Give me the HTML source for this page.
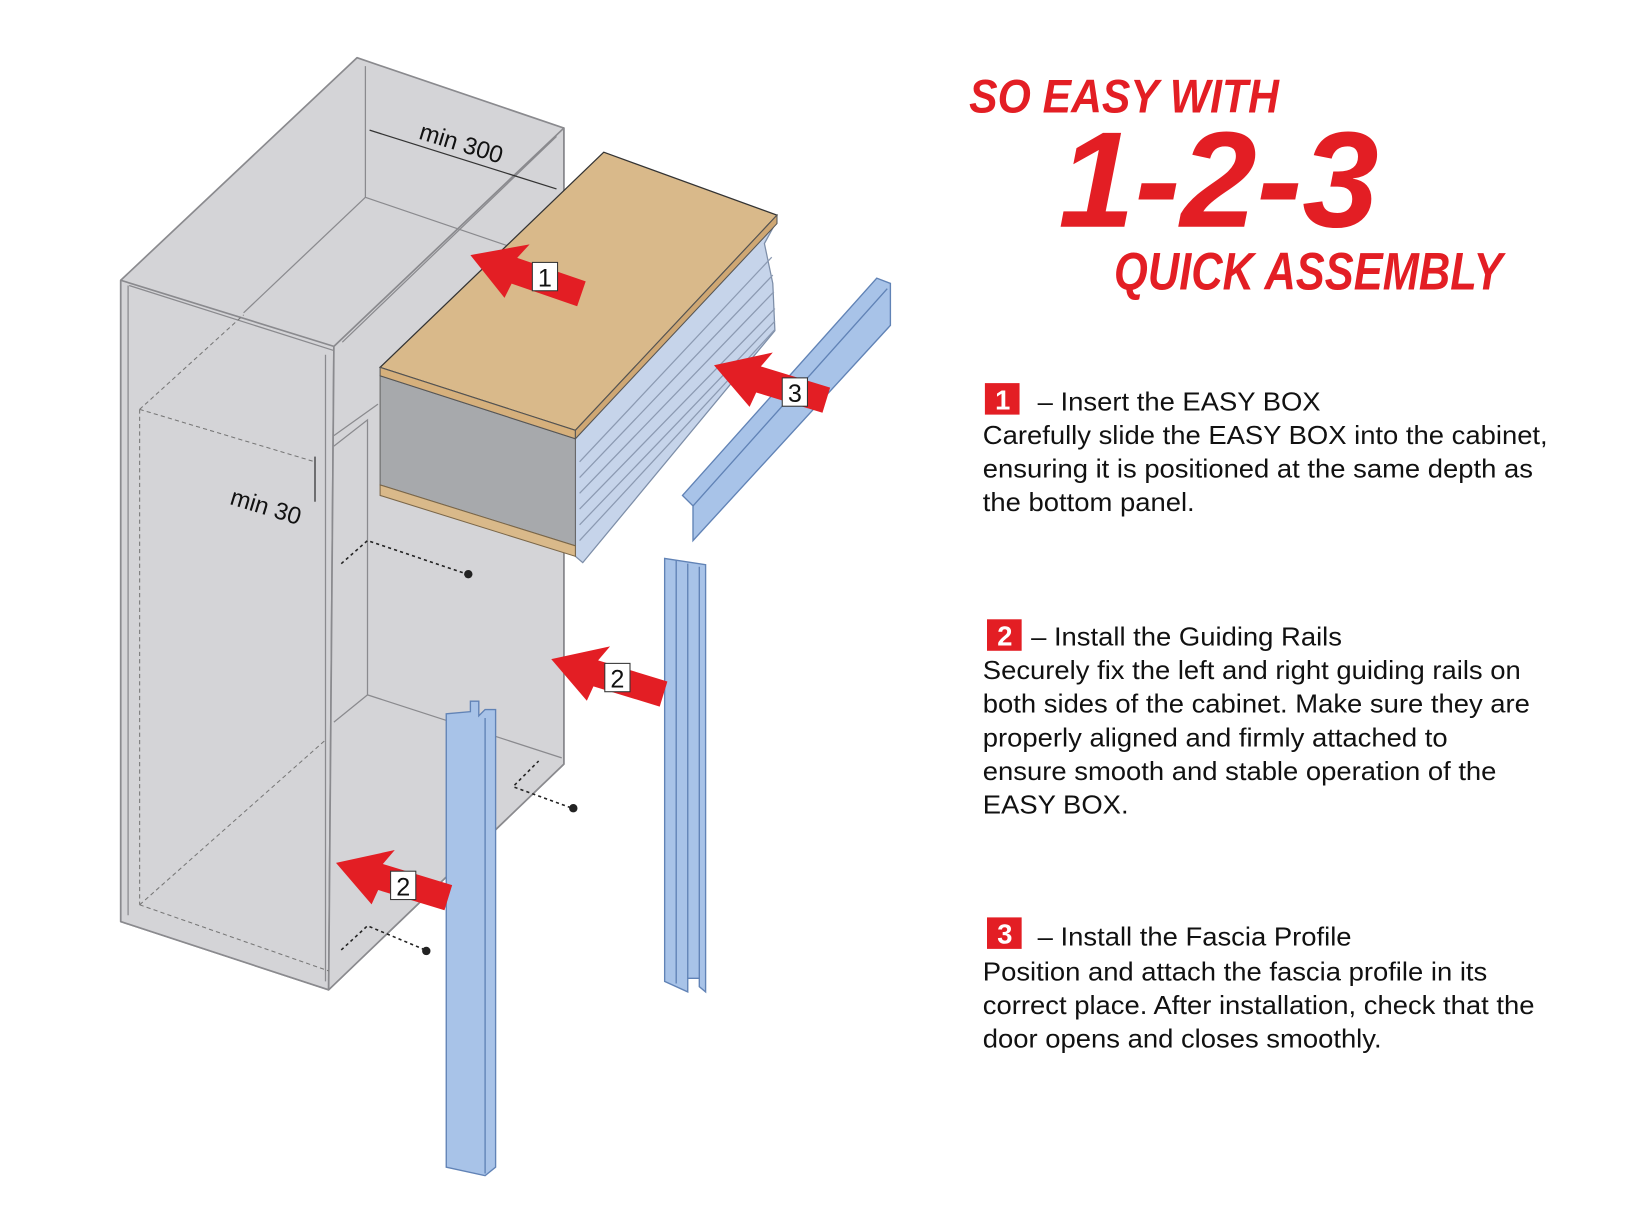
<!DOCTYPE html>
<html><head><meta charset="utf-8"><style>
html,body{margin:0;padding:0;background:#fff;}
svg{display:block}
.t{font-family:"Liberation Sans",Arial,sans-serif;fill:#111;font-size:25px}
.h{font-family:"Liberation Sans Narrow","Liberation Sans",sans-serif;font-style:italic;font-weight:bold;fill:#e31e24}
</style></head><body>
<svg width="1638" height="1205" viewBox="0 0 1560 1148" preserveAspectRatio="none" xmlns="http://www.w3.org/2000/svg">
<defs>
<g id="arr">
<polygon points="0,0 50,-28 43,-12 112,-12 112,13 46,13 44,28" fill="#e31e24"/>
</g>
</defs>
<!-- cabinet -->
<g stroke="#8a8a8e" stroke-width="1.6" fill="#d4d4d7" stroke-linejoin="round">
<polygon points="340,55 537,122 537,728 313,943 115,878 115,267"/>
<polygon points="115,267 318,330 313,943 115,878"/>
<polygon points="318,330 537,122 537,728 313,943"/>
</g>
<g stroke="#8a8a8e" stroke-width="1.2" fill="none">
<polyline points="348,63 348,188 530,250"/>
<line x1="348" y1="188" x2="232" y2="298"/>
<line x1="530" y1="130" x2="326" y2="326"/>
<line x1="123" y1="272" x2="318" y2="334"/>
<line x1="122" y1="272" x2="122" y2="872"/>
<line x1="310" y1="338" x2="310" y2="935"/>
<polyline points="318,425 350,400 350,662 535,722"/>
<line x1="350" y1="662" x2="318" y2="688"/>
<line x1="318" y1="415" x2="360" y2="385"/>
</g>
<g stroke="#777" stroke-width="1" fill="none" stroke-dasharray="4,3">
<line x1="133" y1="390" x2="133" y2="862"/>
<line x1="133" y1="390" x2="300" y2="440"/>
<line x1="133" y1="390" x2="232" y2="300"/>
<line x1="133" y1="862" x2="313" y2="925"/>
<line x1="133" y1="862" x2="310" y2="705"/>
</g>
<g stroke="#333" stroke-width="1.2"><line x1="352" y1="124" x2="530" y2="180"/><line x1="300" y1="435" x2="300" y2="478"/></g>
<text x="398" y="132" transform="rotate(17 398 132)" class="t" style="font-size:23px">min 300</text>
<text x="218" y="480" transform="rotate(17 218 480)" class="t" style="font-size:23px">min 30</text>
<g stroke="#222" stroke-width="1.5" fill="none" stroke-dasharray="3,3">
<polyline points="325,537 350,515 445,547"/>
<polyline points="490,748 513,725"/><line x1="490" y1="750" x2="545" y2="770"/>
<polyline points="325,905 350,882 405,905"/>
</g>
<g fill="#222"><circle cx="446" cy="547" r="4"/><circle cx="546" cy="770" r="4"/><circle cx="406" cy="906" r="4"/></g>
<!-- easy box -->
<polygon points="548,418 740,210 728,232 736,270 738,315 555,536 548,530" fill="#c6d4ea" stroke="#7d8ea8" stroke-width="1.2"/>
<g stroke="#8c9ab2" stroke-width="1.2">
<line x1="552" y1="440" x2="735" y2="245"/><line x1="552" y1="455" x2="736" y2="262"/>
<line x1="552" y1="470" x2="737" y2="278"/><line x1="552" y1="485" x2="738" y2="294"/>
<line x1="552" y1="500" x2="738" y2="306"/><line x1="552" y1="515" x2="738" y2="314"/>
</g>
<polygon points="362,358 548,418 548,520 362,462" fill="#a7a9ac" stroke="#666" stroke-width="1"/>
<polygon points="362,462 548,520 548,530 362,472" fill="#d9b98a" stroke="#7a6648" stroke-width="1"/>
<polygon points="362,350 575,145 740,205 548,410" fill="#d9b98a" stroke="#333" stroke-width="1.2"/>
<polygon points="362,350 548,410 548,418 362,358" fill="#d6b07c" stroke="#555" stroke-width="1"/>
<polygon points="548,410 740,205 740,213 548,418" fill="#cfa773" stroke="#555" stroke-width="1"/>
<!-- fascia profile -->
<polygon points="650,472 835,265 848,270 848,310 660,515 660,482" fill="#a8c3e8" stroke="#6183b6" stroke-width="1.3"/>
<line x1="660" y1="482" x2="845" y2="275" stroke="#6183b6" stroke-width="1.3"/>
<!-- rails -->
<g fill="#a8c3e8" stroke="#6183b6" stroke-width="1.3">
<polygon points="633,532 672,538 672,945 666,940 666,932 655,932 655,945 633,935"/>
<line x1="644" y1="534" x2="644" y2="937"/><line x1="655" y1="537" x2="655" y2="932"/><line x1="666" y1="540" x2="666" y2="932"/>
<polygon points="425,680 448,678 448,668 456,668 456,682 462,676 472,676 472,1112 462,1120 425,1112"/>
<line x1="462" y1="684" x2="462" y2="1118"/>
</g>
<!-- arrows -->
<g transform="translate(448,243) rotate(19)"><use href="#arr"/></g>
<g transform="translate(680,348) rotate(17)"><use href="#arr"/></g>
<g transform="translate(525,628) rotate(17)"><use href="#arr"/></g>
<g transform="translate(320,822) rotate(17)"><use href="#arr"/></g>
<g fill="#fff" stroke="#333" stroke-width="1">
<rect x="507" y="250" width="24" height="27"/><rect x="745" y="360" width="24" height="27"/>
<rect x="576" y="632" width="24" height="27"/><rect x="372" y="830" width="24" height="27"/>
</g>
<g class="t" style="font-size:24px" text-anchor="middle">
<text x="519" y="273">1</text><text x="757" y="383">3</text><text x="588" y="655">2</text><text x="384" y="853">2</text>
</g>
<!-- titles -->
<text x="923" y="107" class="h" font-size="45" textLength="295" lengthAdjust="spacingAndGlyphs">SO EASY WITH</text>
<text x="1008" y="216" class="h" font-size="130" textLength="305" lengthAdjust="spacingAndGlyphs">1-2-3</text>
<text x="1061" y="276" class="h" font-size="50" textLength="370" lengthAdjust="spacingAndGlyphs">QUICK ASSEMBLY</text>
<!-- steps -->
<g fill="#e31e24"><rect x="938" y="365" width="33" height="30"/><rect x="940" y="590" width="33" height="30"/><rect x="940" y="874" width="33" height="30"/></g>
<g font-family="Liberation Sans,sans-serif" font-weight="bold" font-size="26" fill="#fff" text-anchor="middle">
<text x="955" y="390">1</text><text x="957" y="615">2</text><text x="957" y="899">3</text></g>
<g class="t" transform="translate(936,0) scale(1.045,1) translate(-936,0)">
<text x="986" y="391">– Insert the EASY BOX</text>
<text x="936" y="423">Carefully slide the EASY BOX into the cabinet,</text>
<text x="936" y="455">ensuring it is positioned at the same depth as</text>
<text x="936" y="487">the bottom panel.</text>
<text x="980" y="615">– Install the Guiding Rails</text>
<text x="936" y="647">Securely fix the left and right guiding rails on</text>
<text x="936" y="679">both sides of the cabinet. Make sure they are</text>
<text x="936" y="711">properly aligned and firmly attached to</text>
<text x="936" y="743">ensure smooth and stable operation of the</text>
<text x="936" y="775">EASY BOX.</text>
<text x="986" y="901">– Install the Fascia Profile</text>
<text x="936" y="934">Position and attach the fascia profile in its</text>
<text x="936" y="966">correct place. After installation, check that the</text>
<text x="936" y="998">door opens and closes smoothly.</text>
</g>
</svg>
</body></html>
